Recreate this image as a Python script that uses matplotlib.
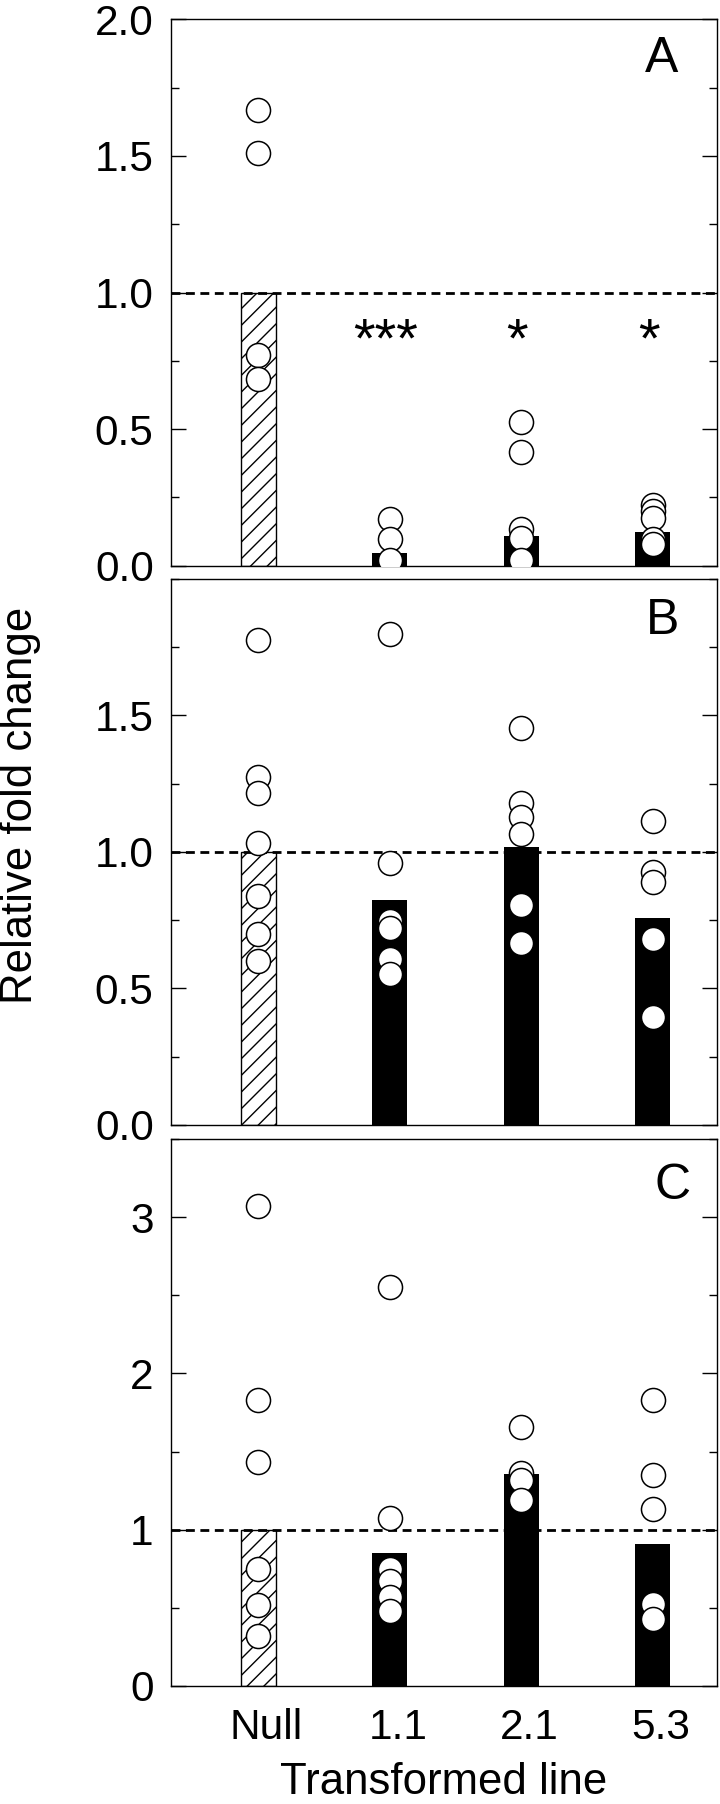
import numpy as np
import matplotlib
matplotlib.use('Agg')
import matplotlib.pyplot as plt
from matplotlib.ticker import MultipleLocator, FixedLocator
import matplotlib.transforms as mtransforms

plt.rcParams['font.family'] = ['Liberation Sans', 'DejaVu Sans']
plt.rcParams['hatch.linewidth'] = 1.0

# Categories (transformed lines)
lines = ['Null', '1.1', '2.1', '5.3']

# Panel A: bar heights and individual points
bars_A = [1.0, 0.048, 0.110, 0.123]
points_A = [[1.669, 1.511, 0.770, 0.682],
            [0.172, 0.099, 0.02],
            [0.526, 0.415, 0.133, 0.10, 0.02],
            [0.221, 0.200, 0.173, 0.099, 0.079]]
stars_A = ['', '***', '*', '*']

# Panel B
bars_B = [1.0, 0.825, 1.018, 0.756]
points_B = [[1.775, 1.272, 1.214, 1.033, 0.840, 0.699, 0.602],
            [1.798, 0.958, 0.745, 0.720, 0.606, 0.553],
            [1.453, 1.178, 1.127, 1.066, 0.806, 0.667],
            [1.114, 0.925, 0.888, 0.680, 0.397]]

# Panel C
bars_C = [1.0, 0.847, 1.355, 0.909]
points_C = [[3.07, 1.828, 1.435, 0.745, 0.519, 0.317],
            [2.551, 1.075, 0.745, 0.672, 0.565, 0.478],
            [1.656, 1.363, 1.317, 1.188],
            [1.833, 1.349, 1.132, 0.524, 0.425]]

W, H = 720, 1804
fig = plt.figure(figsize=(W / 100, H / 100), dpi=100)

left = 171 / W
width = (717 - 171) / W
ax_h = 546.4 / H
bottoms = [1 - 565.7 / H, 1 - 1125 / H, 1 - 1685.7 / H]

panels = [
    ('A', bars_A, points_A, 2.0, [0, 0.5, 1.0, 1.5, 2.0], 0.25, ['0.0', '0.5', '1.0', '1.5', '2.0'], (0.899, 0.904)),
    ('B', bars_B, points_B, 2.0, [0, 0.5, 1.0, 1.5], 0.25, ['0.0', '0.5', '1.0', '1.5'], (0.901, 0.898)),
    ('C', bars_C, points_C, 3.5, [0, 1, 2, 3], 0.5, ['0', '1', '2', '3'], (0.919, 0.890)),
]

x = np.arange(1, len(lines) + 1)
axes = []
for i, (tag, bars, pts, ymax, yt, minor, ylabels, tagpos) in enumerate(panels):
    ax = fig.add_axes([left, bottoms[i], width, ax_h])
    axes.append(ax)

    colors = ['white'] + ['black'] * (len(lines) - 1)
    b = ax.bar(x, bars, width=0.267, color=colors, edgecolor='black', linewidth=1.0, zorder=1)
    b[0].set_hatch('//')
    for patch in b[1:]:
        patch.set_linewidth(0)

    # reference level
    ax.axhline(1.0, color='black', lw=2.0, dashes=(3.2, 2.0), zorder=2)

    for xi, vals in zip(x, pts):
        ax.scatter(np.full(len(vals), xi), vals, s=300, facecolor='white',
                   edgecolor='black', linewidth=1.1, zorder=3)

    ax.set_xlim(0.335, 4.49)
    ax.set_ylim(0, ymax)
    ax.yaxis.set_major_locator(FixedLocator(yt))
    ax.set_yticklabels(ylabels)
    ax.yaxis.set_minor_locator(MultipleLocator(minor))
    ax.tick_params(axis='y', which='both', direction='in', left=True, right=True,
                   labelsize=30.5, pad=12.5, width=1.0)
    ax.tick_params(axis='y', which='major', length=11)
    ax.tick_params(axis='y', which='minor', length=6)
    ax.set_xticks(x)
    if i == 2:
        ax.set_xticklabels(lines)
        ax.tick_params(axis='x', length=0, labelsize=30.5, pad=16)
        offset = mtransforms.ScaledTranslation(8 / 100, 0, fig.dpi_scale_trans)
        for lab in ax.get_xticklabels():
            lab.set_transform(lab.get_transform() + offset)
    else:
        ax.tick_params(axis='x', length=0, labelbottom=False)
    for sp in ax.spines.values():
        sp.set_linewidth(1.0)

    ax.text(tagpos[0], tagpos[1], tag, transform=ax.transAxes, ha='center',
            va='baseline', fontsize=36)

# significance marks on panel A
for xi, s in zip(x, stars_A):
    if s:
        axes[0].text(xi - 0.03, 0.765, s, ha='center', va='baseline', fontsize=40)

fig.text(21 / W, 1 - 805 / H, 'Relative fold change', rotation=90,
         ha='center', va='center', fontsize=31.5)
fig.text(444 / W, 10 / H, 'Transformed line', ha='center', va='baseline', fontsize=31.5)

fig.savefig('out.png', dpi=100)
